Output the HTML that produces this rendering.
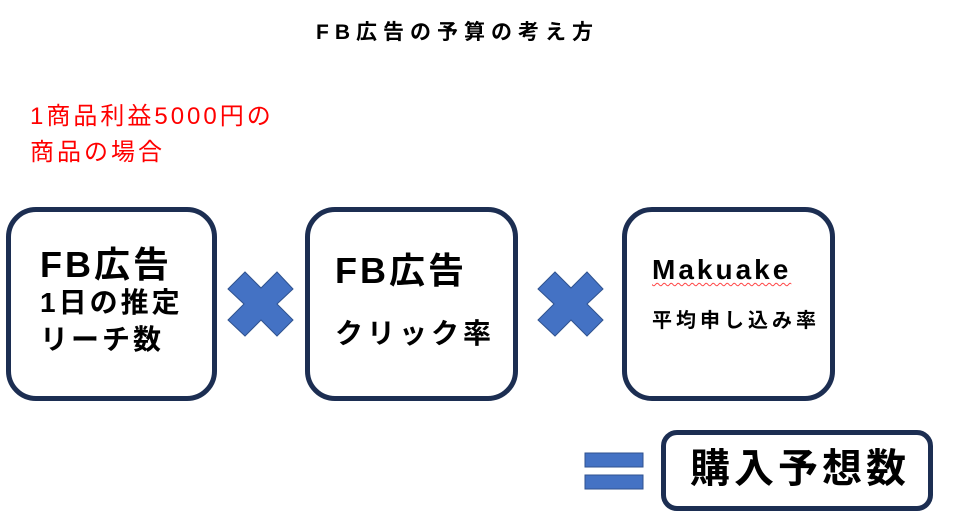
<!DOCTYPE html>
<html><head><meta charset="utf-8"><style>
body{margin:0;width:957px;height:531px;background:#fff;position:relative;overflow:hidden;font-family:"Liberation Sans","Noto Sans CJK JP",sans-serif;}
.a{position:absolute;white-space:nowrap;line-height:1;}
.box{position:absolute;border:5px solid #1c2e52;border-radius:30px;box-sizing:border-box;background:#fff;}
.b{font-weight:bold;color:#000;}
</style></head><body>
<div class="a b" style="left:316px;top:22px;font-size:21px;letter-spacing:6px;">FB広告の予算の考え方</div>
<div class="a" style="left:30px;top:99px;font-size:24px;color:#f00;line-height:36px;letter-spacing:3px;">1商品利益5000円の<br>商品の場合</div>

<div class="box" style="left:6px;top:207px;width:211px;height:194px;"></div>
<div class="a b" style="left:40px;top:247px;font-size:36px;letter-spacing:3px;">FB広告</div>
<div class="a b" style="left:40px;top:289px;font-size:28px;letter-spacing:3px;">1日の推定</div>
<div class="a b" style="left:40px;top:326px;font-size:28px;letter-spacing:3px;">リーチ数</div>

<div class="box" style="left:305px;top:207px;width:213px;height:194px;"></div>
<div class="a b" style="left:335px;top:253px;font-size:36px;letter-spacing:3px;">FB広告</div>
<div class="a b" style="left:335px;top:320px;font-size:28px;letter-spacing:4px;">クリック率</div>

<div class="box" style="left:622px;top:207px;width:213px;height:194px;"></div>
<div class="a b" style="left:652px;top:256px;font-size:28px;letter-spacing:3px;text-decoration:underline wavy #f44;text-decoration-thickness:1px;text-underline-offset:3px;">Makuake</div>
<div class="a b" style="left:652px;top:311px;font-size:20px;letter-spacing:4px;">平均申し込み率</div>

<svg class="a" style="left:0;top:0" width="957" height="531">
<g fill="#4472c4" stroke="#2f528f" stroke-width="1">
<polygon points="228,289 245,272 261,288 277,272 293,289 277,304 293,320 277,336 261,320 245,336 228,320 244,304"/>
<polygon points="538,289 555,272 571,288 587,272 603,289 587,304 603,320 587,336 571,320 555,336 538,320 554,304"/>
<rect x="585" y="453" width="58" height="14"/>
<rect x="585" y="475" width="58" height="14"/>
</g></svg>

<div class="box" style="left:661px;top:430px;width:272px;height:81px;border-radius:16px;"></div>
<div class="a b" style="left:690px;top:449px;font-size:40px;letter-spacing:4px;">購入予想数</div>
</body></html>
